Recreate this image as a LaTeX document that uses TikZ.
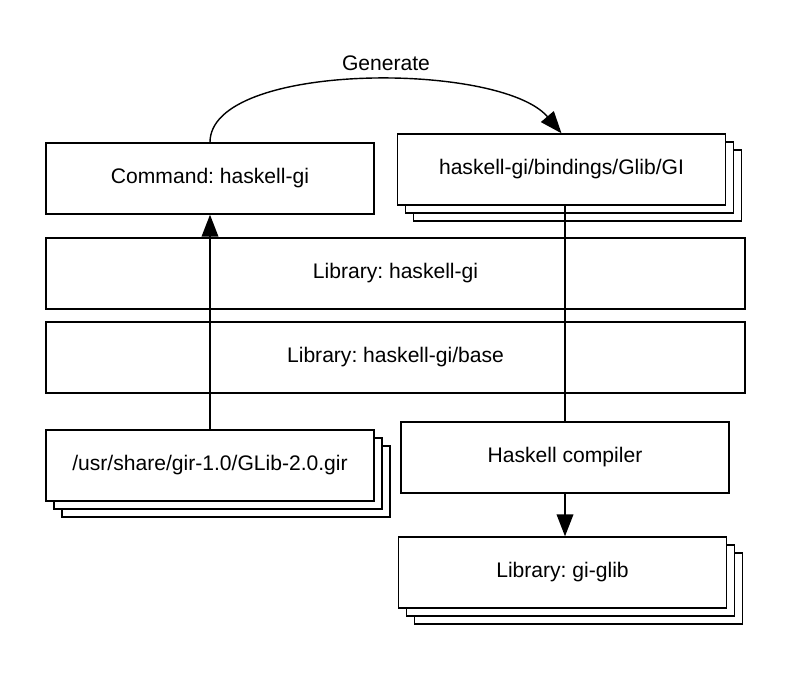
\documentclass[tikz,border=0pt]{standalone}
\usepackage{fontspec}
\setmainfont{Liberation Sans}
\usetikzlibrary{arrows.meta,shadows}
\frenchspacing

\begin{document}
\begin{tikzpicture}[x=0.02cm,y=-0.02cm,line width=0.8pt,
  font=\fontsize{12}{14}\selectfont,
  box/.style={draw,fill=white,inner sep=0pt,minimum width=6.56cm,minimum height=1.42cm},
  wide/.style={box,minimum width=13.98cm},
  stack/.style={box,
    copy shadow={shadow xshift=0.32cm,shadow yshift=-0.32cm,draw=black,fill=white},
    copy shadow={shadow xshift=0.16cm,shadow yshift=-0.16cm,draw=black,fill=white}},
  >={Triangle[length=12.5pt,width=9.5pt]}]
\useasboundingbox (0,0) rectangle (800,674);

\node[box] (cmd) at (210,178.5) {Command: haskell-gi};
\node[stack] (bind) at (561.5,169.5) {haskell-gi/bindings/Glib/GI};
\node[wide] (lib) at (395.5,273.5) {Library: haskell-gi};
\node[wide] (base) at (395.5,357.5) {Library: haskell-gi/base};
\node[stack] (gir) at (210,465.5) {/usr/share/gir-1.0/GLib-2.0.gir};
\node[box] (ghc) at (565,457.5) {Haskell compiler};
\node[stack] (glib) at (562.5,572.5) {Library: gi-glib};

\node (gen) at (386,63) {Generate};

\draw[->] (cmd.north) .. controls +(0,-81) and +(-61,-72) .. (bind.north);
\draw[->] (gir) -- (cmd);
\draw (bind.south -| ghc) -- (ghc);
\draw[->] (ghc) -- (ghc |- glib.north);

\end{tikzpicture}
\end{document}
